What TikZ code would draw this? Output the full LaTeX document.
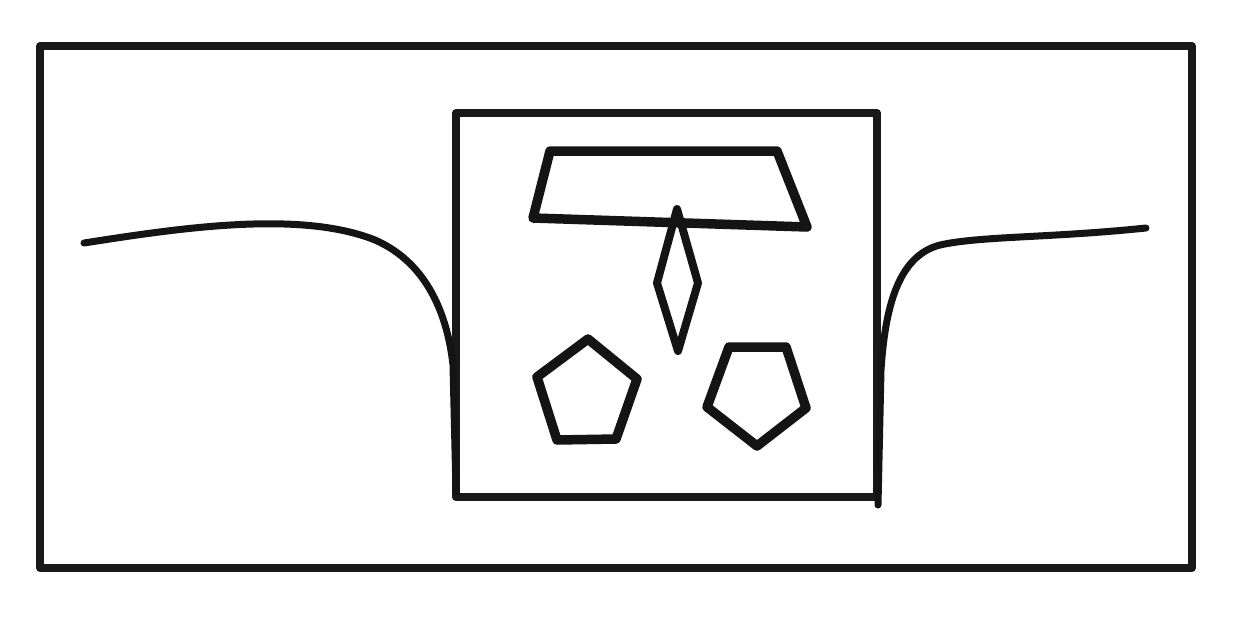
\documentclass[tikz,border=0pt]{standalone}
\begin{document}
\begin{tikzpicture}[x=1pt,y=-1pt,line join=round,line cap=round,
  frame/.style={draw=black!90,line width=8pt},
  shp/.style={draw=black!92,line width=9.5pt},
  crv/.style={draw=black!92,line width=7pt}]
\useasboundingbox[fill=white] (0,0) rectangle (1256,624);
\draw[frame] (40,46) rectangle (1192,568);
\draw[frame,line width=8pt] (456,113) rectangle (877,497);
% left curve
\draw[crv] (84,243) .. controls (180,228) and (300,210) .. (375,240)
  .. controls (430,264) and (448,320) .. (453,365) -- (456,492);
% right curve
\draw[crv] (1146,228) .. controls (1050,238) and (980,236) .. (940,245)
  .. controls (897,256) and (885,310) .. (881,370) -- (878,505);
% trapezoid
\draw[shp] (550,151) -- (777,151) -- (807,227) -- (533,218) -- cycle;
% diamond
\draw[shp,line width=8pt] (677,209) -- (698,283) -- (678,351) -- (657,283) -- cycle;
% pentagons
\draw[shp] (588,339) -- (637,379) -- (616,439) -- (557,440) -- (537,377) -- cycle;
\draw[shp] (729,347) -- (786,347) -- (806,408) -- (757,446) -- (707,407) -- cycle;
\end{tikzpicture}
\end{document}
